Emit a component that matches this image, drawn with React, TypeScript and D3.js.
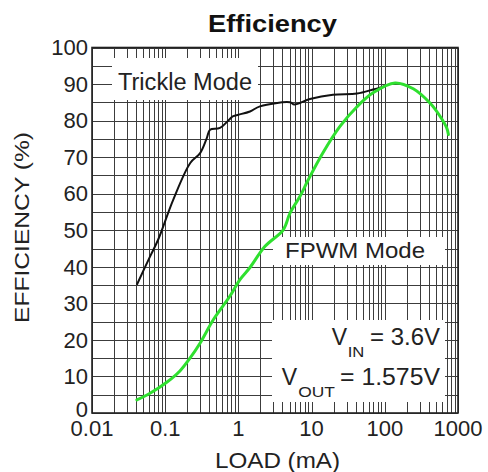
import React from "react";
import * as d3 from "d3";

// ---- data ----
const trickleLoad = [0.041, 0.062, 0.08, 0.129, 0.22, 0.3, 0.37, 0.41, 0.56, 0.85, 1.0, 1.44, 1.97, 5.07, 5.8, 9.5, 19.6, 41.7, 69, 95, 100];
const trickleEff = [35.1, 42.8, 47.4, 58.4, 68.4, 71.1, 75.2, 77.5, 78, 81.2, 81.6, 82.5, 83.9, 85, 84.4, 85.9, 87.1, 87.4, 88.5, 89.3, 89.5];

const fpwmLoad = [0.041, 0.062, 0.105, 0.159, 0.218, 0.299, 0.454, 0.767, 1.05, 1.44, 2.31, 4.1, 5.07, 6.95, 9.0, 14.3, 24.4, 41.7, 69, 138, 245, 414, 568, 701, 740];
const fpwmEff = [3.6, 5.4, 8.4, 11.5, 15, 19.1, 25.5, 32, 36.5, 39.8, 45.6, 50.1, 54.7, 59.3, 63.8, 71.2, 78.4, 83.8, 87.6, 90.3, 88.7, 84.8, 81.2, 78, 76.2];

const xTickValues = [0.01, 0.1, 1, 10, 100, 1000];
const xTickLabels = ["0.01", "0.1", "1", "10", "100", "1000"];
const yTickValues = [0, 10, 20, 30, 40, 50, 60, 70, 80, 90, 100];
const yGridStep = 5;

const title = "Efficiency";
const xTitle = "LOAD (mA)";
const yTitle = "EFFICIENCY (%)";

// ---- layout ----
const W = 488;
const H = 472;
const L = 92, R = 458, T = 47.5, B = 413;
const FONT = "'Liberation Sans', Arial, Helvetica, sans-serif";

export default function App() {
  const x = d3.scaleLog().domain([0.01, 1000]).range([L, R]);
  const y = d3.scaleLinear().domain([0, 100]).range([B, T]);

  const vGrid: number[] = [];
  [0.01, 0.1, 1, 10, 100].forEach((d) => {
    for (let m = 1; m <= 9; m++) vGrid.push(d * m);
  });
  vGrid.push(1000);
  const hGrid = d3.range(0, 100 + yGridStep, yGridStep);

  const line = d3
    .line<[number, number]>()
    .x((d) => x(d[0]))
    .y((d) => y(d[1]))
    .curve(d3.curveCatmullRom.alpha(0.5));

  const trickle = trickleLoad.map((v, i) => [v, trickleEff[i]] as [number, number]);
  const fpwm = fpwmLoad.map((v, i) => [v, fpwmEff[i]] as [number, number]);

  const crisp = (v: number) => Math.round(v) + 0.5;
  const gridColor = "#3c3c3c";

  return (
    <svg
      width={W}
      height={H}
      style={{ position: "absolute", left: 0, top: 0, background: "#fff" }}
      fontFamily={FONT}
    >
      <rect x={0} y={0} width={W} height={H} fill="#fff" />
      {/* title */}
      <text x={208} y={32.3} fontSize={24} fontWeight="bold" fill="#111" textLength={129} lengthAdjust="spacingAndGlyphs">
        {title}
      </text>

      {/* grid */}
      <g stroke={gridColor} strokeWidth={1} shapeRendering="crispEdges">
        {vGrid.map((v, i) => (
          <line key={"v" + i} x1={crisp(x(v))} x2={crisp(x(v))} y1={T} y2={B} />
        ))}
        {hGrid.map((v, i) => (
          <line key={"h" + i} x1={L} x2={R} y1={crisp(y(v))} y2={crisp(y(v))} />
        ))}
      </g>

      {/* annotation boxes hiding grid */}
      <g fill="#fff">
        <rect x={112} y={58} width={146} height={42} />
        <rect x={273} y={237} width={172} height={28} />
        <rect x={272} y={320} width={173} height={82} />
      </g>

      {/* frame */}
      <rect x={L} y={T} width={R - L} height={B - T} fill="none" stroke="#222" strokeWidth={1.6} />

      {/* curves */}
      <path d={line(trickle) || ""} fill="none" stroke="#111" strokeWidth={2} strokeLinejoin="round" />
      <path d={line(fpwm) || ""} fill="none" stroke="#2fe02f" strokeWidth={3} strokeLinejoin="round" strokeLinecap="round" />

      {/* y tick labels */}
      <g fontSize={22} fill="#222" textAnchor="end">
        {yTickValues.map((v) => (
          <text key={v} x={88} y={Math.min(y(v) + 7.7, B + 3.5)}>
            {v}
          </text>
        ))}
      </g>

      {/* x tick labels */}
      <g fontSize={22} fill="#222" textAnchor="middle">
        {xTickValues.map((v, i) => (
          <text key={v} x={x(v)} y={436}>
            {xTickLabels[i]}
          </text>
        ))}
      </g>

      {/* axis titles */}
      <text x={277.5} y={468} fontSize={22} fill="#222" textAnchor="middle" textLength={125} lengthAdjust="spacingAndGlyphs">
        {xTitle}
      </text>
      <text
        transform={`translate(28.5, 227.5) rotate(-90)`}
        fontSize={21}
        fill="#222"
        textAnchor="middle"
        textLength={191}
        lengthAdjust="spacingAndGlyphs"
      >
        {yTitle}
      </text>

      {/* annotations */}
      <g fill="#222">
        <text x={118} y={90} fontSize={23} textLength={134} lengthAdjust="spacingAndGlyphs">
          Trickle Mode
        </text>
        <text x={285} y={258.3} fontSize={22} textLength={140} lengthAdjust="spacingAndGlyphs">
          FPWM Mode
        </text>
        <text x={331.7} y={345} fontSize={23}>V</text>
        <text x={347.7} y={356.7} fontSize={14} textLength={16.6} lengthAdjust="spacingAndGlyphs">IN</text>
        <text x={370} y={345} fontSize={23} textLength={70} lengthAdjust="spacingAndGlyphs">= 3.6V</text>
        <text x={281.7} y={385} fontSize={23}>V</text>
        <text x={298.3} y={396.7} fontSize={14} textLength={36.7} lengthAdjust="spacingAndGlyphs">OUT</text>
        <text x={340} y={385} fontSize={23} textLength={100} lengthAdjust="spacingAndGlyphs">= 1.575V</text>
      </g>
    </svg>
  );
}
